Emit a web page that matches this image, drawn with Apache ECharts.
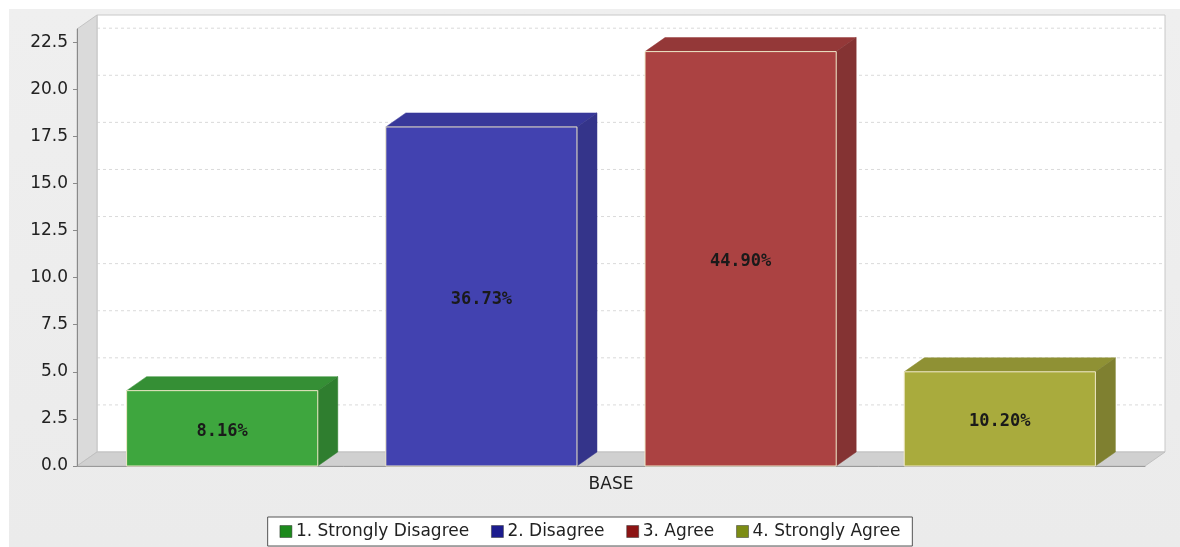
<!DOCTYPE html>
<html><head><meta charset="utf-8">
<script src="https://cdn.jsdelivr.net/npm/echarts@6/dist/echarts.min.js"></script>
<style>html,body{margin:0;padding:0;background:#fff}#c{width:1180px;height:547px}</style>
</head><body><div id="c"></div>
<script>
const categories = ['BASE'];
const seriesNames = ['1. Strongly Disagree', '2. Disagree', '3. Agree', '4. Strongly Agree'];
const counts = [4, 18, 22, 5];
const pctLabels = ['8.16%', '36.73%', '44.90%', '10.20%'];
const yTicks = [0, 2.5, 5, 7.5, 10, 12.5, 15, 17.5, 20, 22.5];

// styles
const legendColors = ['#1d8a1d', '#1c1c8e', '#8c1414', '#7c8c14'];
const frontColors = ['#3ea63e', '#4242b0', '#ab4242', '#a9ab3d'];
const topColors = ['#358f35', '#38389a', '#943838', '#8f9134'];
const sideColors = ['#2f7e2f', '#34348a', '#843333', '#7f8030'];
const DX = 20, DY = 14;
const FONT = 'DejaVu Sans';

const chart = echarts.init(document.getElementById('c'), null, {renderer: 'canvas'});

function renderBox(params, api) {
  const i = params.seriesIndex;
  const base = api.coord([api.value(0), 0]);
  const top = api.coord([api.value(0), api.value(1)]);
  const band = api.size([1, 0])[0];
  const barW = band * 0.179, gap = band * 0.0637;
  const total = 4 * barW + 3 * gap;
  const x0 = base[0] - total / 2 + i * (barW + gap);
  const ty = top[1], by = base[1];
  return {
    type: 'group',
    children: [
      {type: 'polygon', shape: {points: [[x0, ty], [x0 + DX, ty - DY], [x0 + barW + DX, ty - DY], [x0 + barW, ty]]},
        style: {fill: topColors[i], stroke: topColors[i], lineWidth: 0.5}},
      {type: 'polygon', shape: {points: [[x0 + barW, ty], [x0 + barW + DX, ty - DY], [x0 + barW + DX, by - DY], [x0 + barW, by]]},
        style: {fill: sideColors[i], stroke: sideColors[i], lineWidth: 0.5}},
      {type: 'rect', shape: {x: x0, y: ty, width: barW, height: by - ty},
        style: {fill: frontColors[i], stroke: '#efe8c8', lineWidth: 1}},
      {type: 'text', x: x0 + barW / 2, y: (ty + by) / 2 + 3,
        style: {text: pctLabels[i], fill: '#1a1a1a', font: 'bold 17px "DejaVu Sans Mono", monospace', align: 'center', verticalAlign: 'middle'}}
    ]
  };
}

const series = seriesNames.map((n, i) => ({
  name: n, type: 'custom', renderItem: renderBox, z: 5,
  itemStyle: {color: legendColors[i]},
  encode: {x: 0, y: 1},
  data: [[0, counts[i]]]
}));

chart.setOption({
  animation: false,
  backgroundColor: '#ffffff',
  grid: {left: 77, right: 35, top: 29, bottom: 81},
  xAxis: {
    type: 'category', data: categories,
    axisLine: {show: true, lineStyle: {color: '#9a9a9a'}},
    axisTick: {show: false},
    axisLabel: {color: '#222', fontFamily: FONT, fontSize: 17, margin: 10}
  },
  yAxis: {
    type: 'value', min: 0, max: 23.2, interval: 2.5,
    axisLine: {show: true, lineStyle: {color: '#8a8a8a'}},
    axisTick: {show: true, length: 4, lineStyle: {color: '#8a8a8a'}, customValues: yTicks},
    axisLabel: {color: '#222', fontFamily: FONT, fontSize: 17, margin: 9, customValues: yTicks,
      formatter: v => v.toFixed(1)},
    splitLine: {show: false}
  },
  legend: {
    data: seriesNames.map((n, i) => ({name: n, icon: 'rect', itemStyle: {color: legendColors[i], borderColor: '#333', borderWidth: 0.5}})),
    left: 'center', top: 517,
    backgroundColor: '#fff', borderColor: '#555', borderWidth: 1,
    padding: [6, 12], itemGap: 22, itemWidth: 12, itemHeight: 12,
    textStyle: {color: '#222', fontFamily: FONT, fontSize: 17, padding: [0, 0, 0, -1]}
  },
  series: series
});

// 3D plot decoration computed from the axis scale
const p0 = chart.convertToPixel({gridIndex: 0}, [0, 0]);
const pTop = chart.convertToPixel({gridIndex: 0}, [0, 23.2]);
const gx0 = 77, gx1 = 1180 - 35;
const yb = p0[1], yt = pTop[1];
const g = [];
g.push({type: 'rect', z: -10, shape: {x: 9, y: 9, width: 1171, height: 538}, style: {fill: new echarts.graphic.LinearGradient(0, 0, 0, 1, [{offset: 0, color: '#efefef'}, {offset: 1, color: '#ebebeb'}])}});
g.push({type: 'rect', z: -9, shape: {x: gx0 + DX, y: yt - DY, width: gx1 - gx0, height: yb - yt}, style: {fill: '#ffffff', stroke: '#c8c8c8', lineWidth: 1}});
yTicks.forEach(v => {
  if (v === 0) return;
  const y = chart.convertToPixel({gridIndex: 0}, [0, v])[1] - DY;
  g.push({type: 'line', z: -8, shape: {x1: gx0 + DX, y1: y, x2: gx1 + DX, y2: y}, style: {stroke: '#dadada', lineWidth: 1, lineDash: [3, 3]}});
});
g.push({type: 'polygon', z: -7, shape: {points: [[gx0, yb], [gx0, yt], [gx0 + DX, yt - DY], [gx0 + DX, yb - DY]]}, style: {fill: '#dadada', stroke: '#c4c4c4', lineWidth: 1}});
g.push({type: 'polygon', z: -7, shape: {points: [[gx0, yb], [gx0 + DX, yb - DY], [gx1 + DX, yb - DY], [gx1, yb]]}, style: {fill: '#d0d0d0', stroke: '#c0c0c0', lineWidth: 1}});
chart.setOption({graphic: g});
</script></body></html>
